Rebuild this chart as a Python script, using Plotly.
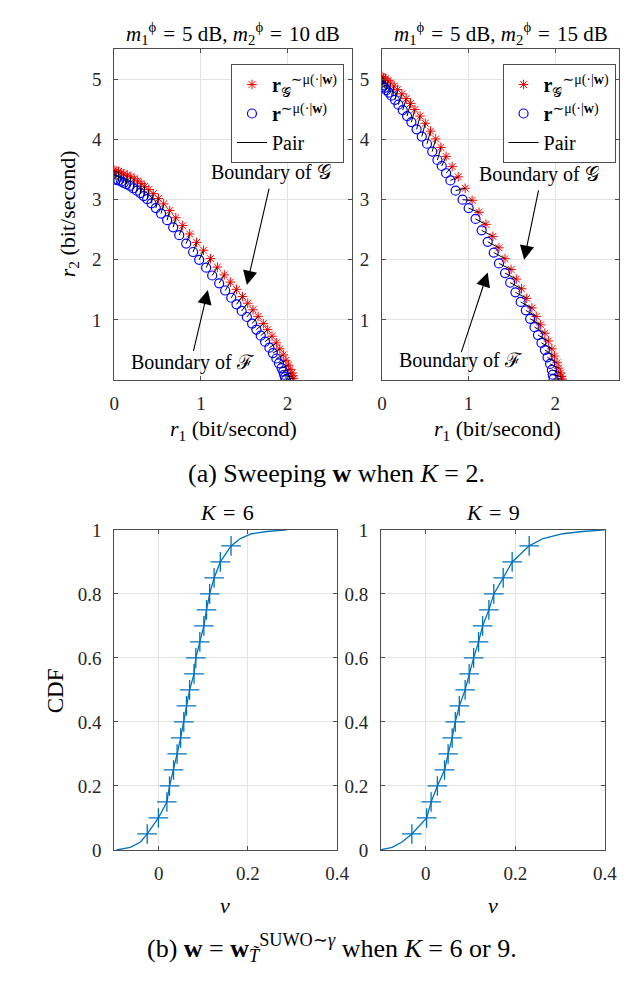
import plotly.graph_objects as go

# top panels: boundary points, one red star and one blue circle per sweep of w
red_x_10 = [0.00, 0.02, 0.05, 0.08, 0.11, 0.15, 0.19, 0.23, 0.27, 0.31, 0.35, 0.40, 0.45, 0.51,
            0.57, 0.64, 0.71, 0.79, 0.87, 0.95, 1.03, 1.11, 1.19, 1.27, 1.34, 1.41, 1.48, 1.54,
            1.60, 1.66, 1.72, 1.77, 1.82, 1.87, 1.91, 1.95, 1.98, 2.01, 2.03, 2.05, 2.06, 2.07]
red_y_10 = [3.49, 3.48, 3.47, 3.45, 3.43, 3.41, 3.38, 3.35, 3.31, 3.27, 3.22, 3.17, 3.10, 3.02,
            2.93, 2.82, 2.70, 2.57, 2.43, 2.29, 2.16, 2.02, 1.88, 1.75, 1.63, 1.51, 1.39, 1.28,
            1.17, 1.06, 0.94, 0.84, 0.73, 0.62, 0.52, 0.42, 0.33, 0.25, 0.18, 0.12, 0.07, 0.03]
blue_x_10 = [0.00, 0.02, 0.05, 0.08, 0.11, 0.14, 0.18, 0.22, 0.26, 0.30, 0.34, 0.38, 0.43, 0.48,
             0.54, 0.61, 0.68, 0.75, 0.83, 0.91, 0.98, 1.06, 1.13, 1.21, 1.28, 1.35, 1.41, 1.47,
             1.53, 1.59, 1.64, 1.69, 1.74, 1.79, 1.83, 1.87, 1.90, 1.93, 1.95, 1.96, 1.97, 1.98]
blue_y_10 = [3.34, 3.33, 3.32, 3.30, 3.28, 3.26, 3.23, 3.19, 3.15, 3.11, 3.06, 3.01, 2.94, 2.86,
             2.77, 2.66, 2.54, 2.41, 2.27, 2.13, 2.00, 1.87, 1.74, 1.61, 1.49, 1.37, 1.26, 1.15,
             1.05, 0.94, 0.84, 0.74, 0.64, 0.54, 0.45, 0.36, 0.28, 0.20, 0.14, 0.09, 0.05, 0.01]

red_x_15 = [0.00, 0.02, 0.04, 0.07, 0.10, 0.14, 0.18, 0.23, 0.28, 0.33, 0.38, 0.44, 0.50, 0.56,
            0.62, 0.68, 0.74, 0.81, 0.88, 0.96, 1.04, 1.12, 1.20, 1.28, 1.35, 1.42, 1.49, 1.55,
            1.61, 1.67, 1.73, 1.78, 1.83, 1.88, 1.92, 1.96, 1.99, 2.02, 2.04, 2.06, 2.07, 2.08]
red_y_15 = [5.05, 5.03, 5.01, 4.98, 4.94, 4.89, 4.83, 4.76, 4.68, 4.60, 4.50, 4.39, 4.27, 4.14,
            4.01, 3.87, 3.72, 3.55, 3.38, 3.19, 2.99, 2.79, 2.59, 2.39, 2.20, 2.02, 1.84, 1.68,
            1.52, 1.36, 1.20, 1.06, 0.92, 0.78, 0.65, 0.52, 0.40, 0.29, 0.20, 0.12, 0.06, 0.02]
blue_x_15 = [0.00, 0.01, 0.03, 0.05, 0.08, 0.11, 0.15, 0.19, 0.24, 0.29, 0.34, 0.40, 0.46, 0.52,
             0.58, 0.64, 0.69, 0.74, 0.79, 0.85, 0.93, 1.00, 1.08, 1.15, 1.22, 1.29, 1.35, 1.42,
             1.48, 1.54, 1.60, 1.66, 1.71, 1.76, 1.80, 1.84, 1.88, 1.91, 1.94, 1.96, 1.97, 1.98]
blue_y_15 = [4.90, 4.88, 4.86, 4.82, 4.78, 4.73, 4.66, 4.58, 4.49, 4.39, 4.29, 4.17, 4.05, 3.93,
             3.80, 3.66, 3.56, 3.44, 3.32, 3.15, 3.00, 2.86, 2.68, 2.49, 2.30, 2.12, 1.94, 1.78,
             1.62, 1.46, 1.30, 1.16, 1.02, 0.88, 0.75, 0.62, 0.50, 0.38, 0.27, 0.17, 0.09, 0.02]

# bottom panels: empirical CDF of nu
cdf_levels = [0.05, 0.10, 0.15, 0.20, 0.25, 0.30, 0.35, 0.40, 0.45, 0.50,
              0.55, 0.60, 0.65, 0.70, 0.75, 0.80, 0.85, 0.90, 0.95]
nu_k6 = [-0.026, -0.001, 0.018, 0.024, 0.033, 0.041, 0.049, 0.056, 0.062, 0.069,
         0.079, 0.083, 0.092, 0.101, 0.107, 0.114, 0.124, 0.138, 0.162]
nu_k9 = [-0.031, 0.002, 0.012, 0.026, 0.042, 0.050, 0.059, 0.066, 0.075, 0.088,
         0.097, 0.107, 0.118, 0.127, 0.141, 0.152, 0.173, 0.193, 0.231]
tail_lo_y = [0.0, 0.008, 0.025]
tail_lo_k6 = [-0.095, -0.064, -0.041]
tail_lo_k9 = [-0.102, -0.075, -0.053]
tail_hi_y = [0.973, 0.988, 0.995, 1.0]
tail_hi_k6 = [0.183, 0.208, 0.242, 0.287]
tail_hi_k9 = [0.262, 0.306, 0.350, 0.400]

SERIF = "Liberation Serif, DejaVu Serif, serif"
MBLUE = "#0072BD"
W, H = 640, 989
EQ = "\u2004=\u2004"


def px_x(p):
    return p / W


def px_y(p):
    return 1 - p / H


fig = go.Figure()

top = [("x", "y", red_x_10, red_y_10, blue_x_10, blue_y_10, "legend"),
       ("x2", "y2", red_x_15, red_y_15, blue_x_15, blue_y_15, "legend2")]
for xa, ya, rx, ry, bx, by, lg in top:
    px, py = [], []
    for a, b, c, d in zip(rx, ry, bx, by):
        px += [a, c, None]
        py += [b, d, None]
    fig.add_trace(go.Scatter(x=rx, y=ry, mode="markers", xaxis=xa, yaxis=ya, legend=lg,
                             name="<b>r</b><sub>𝒢</sub><sup>∼μ(·|<b>w</b>)</sup>",
                             marker=dict(symbol="asterisk-open", size=8, color="red",
                                         line=dict(color="red", width=1))))
    fig.add_trace(go.Scatter(x=bx, y=by, mode="markers", xaxis=xa, yaxis=ya, legend=lg,
                             name="<b>r</b><sup>∼μ(·|<b>w</b>)</sup>",
                             marker=dict(symbol="circle-open", size=9, color="blue",
                                         line=dict(color="blue", width=1.2))))
    fig.add_trace(go.Scatter(x=px, y=py, mode="lines", xaxis=xa, yaxis=ya, legend=lg,
                             name="Pair", line=dict(color="black", width=1)))

for xa, ya, nu, lo, hi in [("x3", "y3", nu_k6, tail_lo_k6, tail_hi_k6),
                           ("x4", "y4", nu_k9, tail_lo_k9, tail_hi_k9)]:
    fig.add_trace(go.Scatter(x=lo + nu + hi, y=tail_lo_y + cdf_levels + tail_hi_y,
                             mode="lines", xaxis=xa, yaxis=ya, showlegend=False,
                             line=dict(color=MBLUE, width=1.3)))
    fig.add_trace(go.Scatter(x=nu, y=cdf_levels, mode="markers", xaxis=xa, yaxis=ya,
                             showlegend=False,
                             marker=dict(symbol="line-ew-open", size=14, color=MBLUE,
                                         line=dict(color=MBLUE, width=1.3))))
    fig.add_trace(go.Scatter(x=nu, y=cdf_levels, mode="markers", xaxis=xa, yaxis=ya,
                             showlegend=False,
                             marker=dict(symbol="line-ns-open", size=14, color=MBLUE,
                                         line=dict(color=MBLUE, width=1.3))))

axis_common = dict(showline=True, linecolor="#4d4d4d", linewidth=1, mirror="allticks",
                   ticks="inside", ticklen=4, tickcolor="#4d4d4d", showgrid=True,
                   gridcolor="#e3e3e3", gridwidth=1, zeroline=False,
                   tickfont=dict(family=SERIF, size=19, color="#262626"))

top_y = [px_y(370), px_y(32)]
bot_y = [px_y(850), px_y(523)]
fig.update_layout(
    xaxis=dict(domain=[px_x(104), px_x(348)], range=[0, 2.74], tickvals=[0, 1, 2],
               anchor="y", ticklabelstandoff=6, **axis_common),
    yaxis=dict(domain=top_y, range=[0, 5.5], tickvals=[1, 2, 3, 4, 5], anchor="x",
               ticklabelstandoff=8, **axis_common),
    xaxis2=dict(domain=[px_x(379), px_x(623)], range=[0, 2.74], tickvals=[0, 1, 2],
                anchor="y2", ticklabelstandoff=6, **axis_common),
    yaxis2=dict(domain=top_y, range=[0, 5.5], tickvals=[1, 2, 3, 4, 5], anchor="x2",
                ticklabelstandoff=8, **axis_common),
    xaxis3=dict(domain=[px_x(104), px_x(333)], range=[-0.1, 0.4], tickvals=[0, 0.2, 0.4],
                anchor="y3", ticklabelstandoff=6, **axis_common),
    yaxis3=dict(domain=bot_y, range=[0, 1], tickvals=[0, 0.2, 0.4, 0.6, 0.8, 1],
                anchor="x3", ticklabelstandoff=8, **axis_common),
    xaxis4=dict(domain=[px_x(378), px_x(608)], range=[-0.1, 0.4], tickvals=[0, 0.2, 0.4],
                anchor="y4", ticklabelstandoff=6, **axis_common),
    yaxis4=dict(domain=bot_y, range=[0, 1], tickvals=[0, 0.2, 0.4, 0.6, 0.8, 1],
                anchor="x4", ticklabelstandoff=8, **axis_common),
)

leg_common = dict(bgcolor="white", bordercolor="#4d4d4d", borderwidth=1,
                  font=dict(family=SERIF, size=20, color="black"),
                  xanchor="right", yanchor="top", tracegroupgap=0, itemwidth=30)
fig.update_layout(
    legend=dict(x=px_x(340), y=px_y(47), **leg_common),
    legend2=dict(x=px_x(619), y=px_y(47), **leg_common),
)

ann = []


def text(x, y, s, size=22, angle=0):
    ann.append(dict(xref="paper", yref="paper", x=px_x(x), y=px_y(y), text=s,
                    showarrow=False, textangle=angle, xanchor="center", yanchor="middle",
                    font=dict(family=SERIF, size=size, color="black")))


text(226, 16, "<i>m</i><sub>1</sub><sup>ϕ</sup>" + EQ + "5 dB, <i>m</i><sub>2</sub><sup>ϕ</sup>" + EQ + "10 dB", 21)
text(501, 16, "<i>m</i><sub>1</sub><sup>ϕ</sup>" + EQ + "5 dB, <i>m</i><sub>2</sub><sup>ϕ</sup>" + EQ + "15 dB", 21)
text(227, 421, "<i>r</i><sub>1</sub> (bit/second)", 22)
text(498, 421, "<i>r</i><sub>1</sub> (bit/second)", 22)
text(57, 200, "<i>r</i><sub>2</sub> (bit/second)", 22, angle=-90)
text(332, 465, "(a) Sweeping <b>w</b> when <i>K</i> = 2.", 26)
text(220, 505, "<i>K</i>" + EQ + "6", 22)
text(493, 505, "<i>K</i>" + EQ + "9", 22)
text(44, 687, "CDF", 23, angle=-90)
text(218, 907, "<i>ν</i>", 22)
text(493, 907, "<i>ν</i>", 22)
text(328, 950, "(b) <b>w</b> = <b>w</b><sub><i>T̃</i></sub><sup>SUWO∼<i>γ</i></sup> when <i>K</i> = 6 or 9.", 26)

# boundary labels and arrows, in data coordinates of each top panel
bfont = dict(family=SERIF, size=20, color="black")
ann += [
    dict(xref="x", yref="y", x=1.81, y=3.45, text="Boundary of 𝒢", showarrow=False, font=bfont),
    dict(xref="x", yref="y", x=0.90, y=0.29, text="Boundary of ℱ", showarrow=False, font=bfont),
    dict(xref="x2", yref="y2", x=1.81, y=3.42, text="Boundary of 𝒢", showarrow=False, font=bfont),
    dict(xref="x2", yref="y2", x=0.91, y=0.33, text="Boundary of ℱ", showarrow=False, font=bfont),
]
for xr, yr, tx, ty, hx, hy in [("x", "y", 1.79, 3.21, 1.53, 1.58),
                               ("x", "y", 0.91, 0.46, 1.08, 1.50),
                               ("x2", "y2", 1.81, 3.18, 1.64, 2.00),
                               ("x2", "y2", 0.91, 0.44, 1.22, 1.79)]:
    ann.append(dict(xref=xr, yref=yr, axref=xr, ayref=yr, x=hx, y=hy, ax=tx, ay=ty,
                    text="", showarrow=True, arrowhead=2, arrowsize=2.6, arrowwidth=1.1,
                    arrowcolor="black", standoff=0, startstandoff=0))

fig.update_layout(annotations=ann, width=W, height=H, margin=dict(l=0, r=0, t=0, b=0),
                  plot_bgcolor="white", paper_bgcolor="white",
                  font=dict(family=SERIF, color="black"))
fig.write_html("out.html")
